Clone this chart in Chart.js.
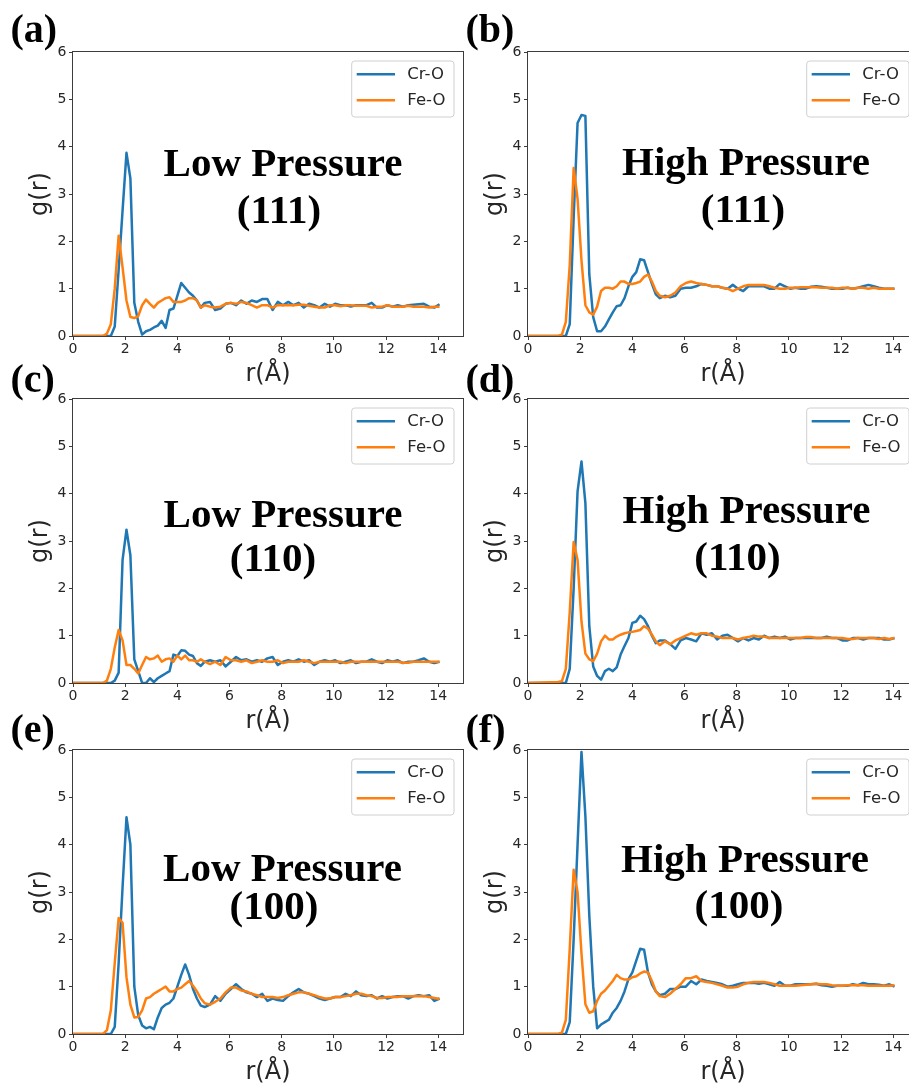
<!DOCTYPE html>
<html>
<head>
<meta charset="utf-8">
<title>g(r) Cr-O / Fe-O</title>
<script src="https://cdn.jsdelivr.net/npm/chart.js@4.4.1/dist/chart.umd.min.js"></script>
<style>
    html, body { margin: 0; padding: 0; background: #fff; overflow: hidden; }
    #fig { position: relative; width: 909px; height: 1084px; overflow: hidden; }
    .panel { position: absolute; width: 468px; height: 392px; }
    .panel canvas { display: block; }
</style>
</head>
<body>
<div id="fig"></div>
<script>
// ============================================================
// Radial distribution functions, Cr-O and Fe-O, six surfaces
// ============================================================

// r grid (Å): 0.15 steps through the first shells, 0.2 in the tail
const rValues = [0,
    1.15, 1.3, 1.45, 1.6, 1.75, 1.9, 2.05, 2.2, 2.35, 2.5, 2.65, 2.8, 2.95, 3.1, 3.25, 3.4, 3.55, 3.7, 3.85, 4.0, 4.15, 4.3, 4.45, 4.6, 4.75, 4.9, 5.05,
    5.25, 5.45, 5.65, 5.85, 6.05, 6.25, 6.45, 6.65, 6.85, 7.05, 7.25, 7.45, 7.65, 7.85, 8.05, 8.25, 8.45, 8.65, 8.85, 9.05, 9.25, 9.45, 9.65, 9.85,
    10.05, 10.25, 10.45, 10.65, 10.85, 11.05, 11.25, 11.45, 11.65, 11.85, 12.05, 12.25, 12.45, 12.65, 12.85, 13.05, 13.25, 13.45, 13.65, 13.85, 14.05];

const xTicks = [0, 2, 4, 6, 8, 10, 12, 14];
const yTicks = [0, 1, 2, 3, 4, 5, 6];
const seriesLabels = ['Cr-O', 'Fe-O'];

// (a) low pressure, (111)
const crLow111 = [0,
    0, 0, 0, 0.2, 1.4, 2.65, 3.87, 3.33, 0.7, 0.3, 0.03, 0.1, 0.13, 0.18, 0.22, 0.32, 0.17, 0.55, 0.58, 0.85, 1.12, 1.02, 0.92, 0.85, 0.75, 0.6, 0.7,
    0.72, 0.55, 0.58, 0.68, 0.7, 0.65, 0.75, 0.68, 0.75, 0.72, 0.78, 0.78, 0.55, 0.72, 0.65, 0.72, 0.65, 0.7, 0.6, 0.68,
    0.65, 0.6, 0.68, 0.62, 0.68, 0.65, 0.65, 0.62, 0.65, 0.65, 0.65, 0.7, 0.6, 0.6, 0.65, 0.62, 0.65, 0.62, 0.65, 0.66,
    0.67, 0.68, 0.62, 0.6, 0.67];
const feLow111 = [0,
    0, 0.05, 0.25, 1.0, 2.12, 1.45, 0.75, 0.4, 0.38, 0.42, 0.65, 0.77, 0.68, 0.6, 0.7, 0.75, 0.8, 0.82, 0.72, 0.72, 0.72, 0.75, 0.8, 0.8, 0.75, 0.6, 0.65,
    0.62, 0.6, 0.62, 0.68, 0.7, 0.68, 0.72, 0.7, 0.65, 0.6, 0.65, 0.65, 0.6, 0.65, 0.65, 0.65, 0.65, 0.66, 0.66, 0.64,
    0.62, 0.6, 0.6, 0.65, 0.65, 0.63, 0.65, 0.65, 0.64, 0.64, 0.64, 0.6, 0.62, 0.62, 0.65, 0.62, 0.62, 0.62, 0.64, 0.62,
    0.62, 0.62, 0.6, 0.62, 0.62];

// (b) high pressure, (111)
const crHigh111 = [0,
    0, 0, 0, 0.25, 2.5, 4.5, 4.67, 4.65, 1.3, 0.4, 0.1, 0.1, 0.2, 0.35, 0.5, 0.63, 0.65, 0.8, 1.05, 1.25, 1.35, 1.62, 1.6, 1.35, 1.1, 0.88, 0.8,
    0.85, 0.82, 0.85, 1.0, 1.02, 1.02, 1.05, 1.1, 1.08, 1.05, 1.05, 1.02, 1.0, 1.08, 1.0, 0.95, 1.05, 1.05, 1.05, 1.05,
    1.0, 1.0, 1.1, 1.05, 1.0, 1.02, 1.0, 1.0, 1.04, 1.05, 1.04, 1.02, 1.0, 1.0, 1.0, 1.02, 1.0, 1.02, 1.05, 1.08,
    1.05, 1.02, 1.0, 1.0, 1.0];
const feHigh111 = [0,
    0, 0.03, 0.3, 1.5, 3.55, 2.9, 1.6, 0.65, 0.5, 0.45, 0.62, 0.95, 1.02, 1.02, 1.0, 1.05, 1.15, 1.15, 1.1, 1.1, 1.12, 1.15, 1.25, 1.3, 1.15, 0.95, 0.85,
    0.82, 0.85, 0.92, 1.05, 1.12, 1.15, 1.12, 1.1, 1.08, 1.05, 1.05, 1.02, 1.0, 0.95, 1.0, 1.05, 1.08, 1.08, 1.08, 1.08,
    1.05, 1.02, 1.0, 1.0, 1.02, 1.02, 1.03, 1.03, 1.03, 1.03, 1.02, 1.02, 1.02, 1.0, 1.02, 1.02, 1.0, 1.02, 1.02, 1.0,
    1.02, 1.0, 1.0, 1.0, 1.0];

// (c) low pressure, (110)
const crLow110 = [0,
    0, 0, 0, 0.05, 0.22, 2.6, 3.24, 2.7, 0.5, 0.25, 0, 0, 0.1, 0.02, 0.1, 0.15, 0.2, 0.25, 0.6, 0.57, 0.69, 0.68, 0.6, 0.57, 0.42, 0.36, 0.45,
    0.48, 0.45, 0.48, 0.35, 0.45, 0.55, 0.48, 0.5, 0.45, 0.48, 0.45, 0.52, 0.55, 0.38, 0.45, 0.48, 0.45, 0.5, 0.45, 0.48,
    0.38, 0.45, 0.48, 0.45, 0.48, 0.42, 0.45, 0.48, 0.42, 0.45, 0.45, 0.5, 0.45, 0.42, 0.48, 0.45, 0.48, 0.42, 0.45, 0.45,
    0.48, 0.52, 0.45, 0.42, 0.45];
const feLow110 = [0,
    0, 0.05, 0.3, 0.75, 1.12, 0.9, 0.38, 0.38, 0.3, 0.2, 0.38, 0.55, 0.5, 0.52, 0.58, 0.45, 0.5, 0.52, 0.45, 0.58, 0.5, 0.58, 0.48, 0.48, 0.45, 0.5, 0.45,
    0.4, 0.45, 0.38, 0.55, 0.48, 0.48, 0.45, 0.48, 0.42, 0.45, 0.48, 0.45, 0.45, 0.48, 0.42, 0.45, 0.45, 0.45, 0.48, 0.45,
    0.42, 0.45, 0.45, 0.45, 0.45, 0.45, 0.42, 0.45, 0.45, 0.45, 0.45, 0.45, 0.45, 0.45, 0.45, 0.45, 0.45, 0.43, 0.43, 0.45,
    0.45, 0.45, 0.45, 0.45, 0.45];

// (d) high pressure, (110)
const crHigh110 = [0,
    0, 0, 0, 0.3, 2.0, 4.05, 4.68, 3.8, 1.2, 0.35, 0.15, 0.07, 0.25, 0.3, 0.25, 0.33, 0.6, 0.78, 0.95, 1.27, 1.3, 1.42, 1.35, 1.2, 1.0, 0.84, 0.9,
    0.9, 0.82, 0.72, 0.9, 0.95, 0.92, 0.88, 1.05, 1.02, 1.05, 0.92, 1.0, 1.02, 0.95, 0.88, 0.95, 0.9, 0.95, 0.92, 1.0,
    0.95, 0.98, 0.95, 0.98, 0.92, 0.95, 0.95, 0.95, 0.95, 0.95, 0.95, 0.98, 0.95, 0.95, 0.9, 0.9, 0.95, 0.95, 0.92, 0.95,
    0.95, 0.95, 0.92, 0.92, 0.95];
const feHigh110 = [0,
    0.02, 0.04, 0.3, 1.5, 2.98, 2.6, 1.3, 0.62, 0.5, 0.46, 0.62, 0.88, 1.0, 0.92, 0.92, 0.98, 1.02, 1.05, 1.07, 1.08, 1.1, 1.12, 1.2, 1.15, 1.02, 0.88, 0.8,
    0.88, 0.82, 0.9, 0.95, 1.0, 1.05, 1.02, 1.05, 1.05, 1.0, 0.98, 0.95, 0.95, 0.95, 0.92, 0.95, 0.97, 1.0, 0.98, 0.98,
    0.95, 0.95, 0.95, 0.95, 0.95, 0.95, 0.95, 0.97, 0.97, 0.95, 0.95, 0.95, 0.95, 0.95, 0.95, 0.93, 0.93, 0.95, 0.95, 0.95,
    0.95, 0.93, 0.95, 0.93, 0.95];

// (e) low pressure, (100)
const crLow100 = [0,
    0, 0, 0, 0.15, 1.5, 3.1, 4.58, 4.0, 1.0, 0.4, 0.18, 0.12, 0.15, 0.1, 0.35, 0.55, 0.62, 0.66, 0.75, 1.0, 1.25, 1.47, 1.25, 0.95, 0.75, 0.6, 0.57,
    0.62, 0.8, 0.7, 0.85, 0.95, 1.05, 0.95, 0.88, 0.85, 0.78, 0.85, 0.7, 0.75, 0.72, 0.7, 0.8, 0.88, 0.95, 0.88, 0.85,
    0.8, 0.75, 0.72, 0.75, 0.78, 0.78, 0.85, 0.8, 0.9, 0.82, 0.8, 0.82, 0.75, 0.8, 0.75, 0.78, 0.8, 0.8, 0.75, 0.8,
    0.82, 0.8, 0.82, 0.7, 0.75];
const feLow100 = [0,
    0, 0.08, 0.5, 1.5, 2.45, 2.35, 1.2, 0.62, 0.35, 0.36, 0.5, 0.75, 0.78, 0.85, 0.9, 0.95, 1.0, 0.9, 0.9, 0.95, 0.98, 1.05, 1.12, 1.02, 0.9, 0.75, 0.65,
    0.62, 0.68, 0.75, 0.88, 0.98, 0.98, 0.92, 0.9, 0.85, 0.82, 0.78, 0.78, 0.78, 0.76, 0.78, 0.82, 0.85, 0.88, 0.88, 0.85,
    0.82, 0.78, 0.75, 0.75, 0.78, 0.78, 0.8, 0.82, 0.85, 0.85, 0.82, 0.8, 0.76, 0.76, 0.78, 0.78, 0.78, 0.8, 0.8, 0.8,
    0.8, 0.8, 0.78, 0.76, 0.74];

// (f) high pressure, (100)
const crHigh100 = [0,
    0, 0, 0, 0.25, 2.0, 4.0, 5.96, 4.6, 2.5, 1.0, 0.12, 0.2, 0.25, 0.3, 0.45, 0.55, 0.7, 0.9, 1.16, 1.3, 1.55, 1.8, 1.78, 1.3, 1.05, 0.9, 0.82,
    0.85, 0.95, 0.95, 1.0, 1.0, 1.12, 1.05, 1.15, 1.12, 1.1, 1.08, 1.05, 1.0, 1.02, 1.05, 1.08, 1.08, 1.08, 1.06, 1.08,
    1.05, 1.02, 1.1, 1.02, 1.02, 1.05, 1.05, 1.05, 1.05, 1.06, 1.03, 1.02, 1.0, 1.02, 1.02, 1.02, 1.05, 1.03, 1.08, 1.05,
    1.05, 1.04, 1.02, 1.05, 1.0];
const feHigh100 = [0,
    0, 0.03, 0.3, 1.8, 3.47, 3.0, 1.7, 0.63, 0.45, 0.48, 0.7, 0.85, 0.92, 1.02, 1.12, 1.25, 1.18, 1.15, 1.15, 1.2, 1.22, 1.28, 1.32, 1.3, 1.12, 0.9, 0.8,
    0.78, 0.85, 0.95, 1.05, 1.18, 1.18, 1.22, 1.12, 1.1, 1.08, 1.05, 1.02, 0.98, 0.98, 1.0, 1.05, 1.08, 1.1, 1.1, 1.1,
    1.08, 1.05, 1.02, 1.02, 1.02, 1.02, 1.03, 1.04, 1.05, 1.06, 1.05, 1.05, 1.03, 1.02, 1.02, 1.03, 1.03, 1.03, 1.03, 1.02,
    1.02, 1.02, 1.02, 1.02, 1.03];

const BLUE = '#1f77b4';
const ORANGE = '#ff7f0e';
const INK = '#262626';
const FRAME = '#3c3c3c';
const X_MAX = 14.95;

// holder position, letter, two-line caption (cx / baseline relative to the plot area)
const panels = [
    { letter: '(a)', left: 0,   top: 0,   cr: crLow111,  fe: feLow111,  letterY: -10,
      caption: [{ text: 'Low Pressure', cx: 210, y: 124 }, { text: '(111)', cx: 206, y: 171 }] },
    { letter: '(b)', left: 455, top: 0,   cr: crHigh111, fe: feHigh111, letterY: -10,
      caption: [{ text: 'High Pressure', cx: 218, y: 123 }, { text: '(111)', cx: 215, y: 170 }] },
    { letter: '(c)', left: 0,   top: 347, cr: crLow110,  fe: feLow110,  letterY: -7.5,
      caption: [{ text: 'Low Pressure', cx: 210, y: 127.5 }, { text: '(110)', cx: 200, y: 171.5 }] },
    { letter: '(d)', left: 455, top: 347, cr: crHigh110, fe: feHigh110, letterY: -7.5,
      caption: [{ text: 'High Pressure', cx: 218.5, y: 124 }, { text: '(110)', cx: 209.5, y: 171 }] },
    { letter: '(e)', left: 0,   top: 698, cr: crLow100,  fe: feLow100,  letterY: -8.3,
      caption: [{ text: 'Low Pressure', cx: 209.5, y: 130.5 }, { text: '(100)', cx: 201, y: 169.3 }] },
    { letter: '(f)', left: 455, top: 698, cr: crHigh100, fe: feHigh100, letterY: -8.3,
      caption: [{ text: 'High Pressure', cx: 217, y: 121.7 }, { text: '(100)', cx: 211, y: 168.3 }] }
];

function toPoints(values) {
    return rValues.map((x, i) => ({ x, y: values[i] }));
}

// frame, legend box, caption and panel letter
function decorPlugin(p) {
    return {
        id: 'decor',
        afterDraw(chart) {
            const { ctx, chartArea: a } = chart;
            ctx.save();

            ctx.strokeStyle = FRAME;
            ctx.lineWidth = 1;
            ctx.strokeRect(Math.round(a.left) - 0.5, Math.round(a.top) - 0.5,
                Math.round(a.right - a.left) + 1, Math.round(a.bottom - a.top) + 1);

            // legend, upper right
            const lx = a.left + 278.7, ly = a.top + 9;
            ctx.beginPath();
            ctx.roundRect(lx, ly, 102.3, 56, 3);
            ctx.fillStyle = 'rgba(255,255,255,0.8)';
            ctx.fill();
            ctx.strokeStyle = '#d0d0d0';
            ctx.stroke();
            ctx.font = '16.5px "DejaVu Sans"';
            ctx.textAlign = 'left';
            ctx.textBaseline = 'middle';
            chart.data.datasets.forEach((ds, i) => {
                const y = a.top + 22.3 + i * 26;
                ctx.strokeStyle = ds.borderColor;
                ctx.lineWidth = 2.5;
                ctx.beginPath();
                ctx.moveTo(lx + 5, y);
                ctx.lineTo(lx + 43.3, y);
                ctx.stroke();
                ctx.fillStyle = INK;
                ctx.fillText(ds.label, lx + 55.6, y + 0.5);
            });

            ctx.fillStyle = '#000';
            ctx.textBaseline = 'alphabetic';
            ctx.textAlign = 'center';
            ctx.font = 'bold 41px "Liberation Serif"';
            p.caption.forEach(c => ctx.fillText(c.text, a.left + c.cx, a.top + c.y));

            ctx.textAlign = 'left';
            ctx.font = 'bold 40px "Liberation Serif"';
            ctx.fillText(p.letter, a.left - 62.5, a.top + p.letterY);
            ctx.restore();
        }
    };
}

function buildPanel(p) {
    const holder = document.createElement('div');
    holder.className = 'panel';
    holder.style.left = p.left + 'px';
    holder.style.top = p.top + 'px';
    const canvas = document.createElement('canvas');
    canvas.width = 468;
    canvas.height = 392;
    holder.appendChild(canvas);
    document.getElementById('fig').appendChild(holder);

    const tickFont = { family: 'DejaVu Sans', size: 14 };
    const titleFont = { family: 'DejaVu Sans', size: 24 };

    return new Chart(canvas.getContext('2d'), {
        type: 'line',
        data: {
            datasets: [
                { label: seriesLabels[0], data: toPoints(p.cr), borderColor: BLUE, order: 1 },
                { label: seriesLabels[1], data: toPoints(p.fe), borderColor: ORANGE, order: 0 }
            ]
        },
        options: {
            responsive: false,
            animation: false,
            events: [],
            layout: { padding: { top: 52, right: 5, left: 0, bottom: 0 } },
            elements: {
                point: { radius: 0 },
                line: { borderWidth: 2.5, tension: 0, borderJoinStyle: 'round', fill: false }
            },
            plugins: { legend: { display: false }, tooltip: { enabled: false } },
            scales: {
                x: {
                    type: 'linear', min: 0, max: X_MAX,
                    afterBuildTicks: s => { s.ticks = xTicks.map(value => ({ value })); },
                    afterFit: s => { s.height = 56; },
                    grid: { drawOnChartArea: false, drawTicks: true, tickLength: 4, color: FRAME },
                    border: { display: false },
                    ticks: { padding: 1, color: INK, font: tickFont, maxRotation: 0, autoSkip: false },
                    title: { display: true, text: 'r(Å)', color: INK, font: titleFont, padding: { top: 0, bottom: 3 } }
                },
                y: {
                    type: 'linear', min: 0, max: 6,
                    afterBuildTicks: s => { s.ticks = yTicks.map(value => ({ value })); },
                    afterFit: s => { s.width = 73; },
                    grid: { drawOnChartArea: false, drawTicks: true, tickLength: 4, color: FRAME },
                    border: { display: false },
                    ticks: { padding: 2.5, color: INK, font: tickFont, autoSkip: false },
                    title: { display: true, text: 'g(r)', color: INK, font: titleFont, padding: { top: 26.8, bottom: 0 } }
                }
            }
        },
        plugins: [decorPlugin(p)]
    });
}

panels.forEach(buildPanel);
</script>
</body>
</html>
